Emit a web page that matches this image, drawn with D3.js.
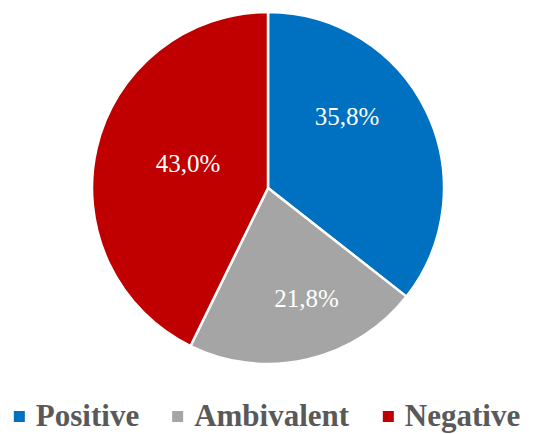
<!DOCTYPE html>
<html><head><meta charset="utf-8">
<script src="https://cdn.jsdelivr.net/npm/d3@7"></script>
<style>html,body{margin:0;padding:0;background:#fff;}</style>
</head><body>
<svg id="chart" width="537" height="434"></svg>
<script>
const categories = ["Positive", "Ambivalent", "Negative"];
const values = [35.8, 21.8, 43.0];
const colors = ["#0070C0", "#A5A5A5", "#C00000"];
const labelOffsets = [[-16, -25], [15, 8], [23, -1]];

const svg = d3.select("#chart");
const cx = 268, cy = 188, R = 176;
const pie = d3.pie().sort(null).value(d => d.v);
const data = categories.map((c, i) => ({c, v: values[i], col: colors[i], off: labelOffsets[i]}));
const arcs = pie(data);
const arc = d3.arc().innerRadius(0).outerRadius(R);
const labelArc = d3.arc().innerRadius(R * 0.6).outerRadius(R * 0.6);

const g = svg.append("g").attr("transform", `translate(${cx},${cy})`);
g.selectAll("path").data(arcs).join("path")
  .attr("d", arc).attr("fill", d => d.data.col)
  .attr("stroke", "#fff").attr("stroke-width", 2.5).attr("stroke-linejoin", "round");

const fmt = v => v.toFixed(1).replace(".", ",") + "%";
g.selectAll("text.lbl").data(arcs).join("text")
  .attr("class", "lbl")
  .attr("x", d => labelArc.centroid(d)[0] + d.data.off[0])
  .attr("y", d => labelArc.centroid(d)[1] + d.data.off[1])
  .attr("text-anchor", "middle").attr("dominant-baseline", "central")
  .attr("font-family", "Liberation Serif, serif")
  .attr("font-size", 25).attr("fill", "#fff")
  .text(d => fmt(d.data.v));

// legend
const lg = svg.append("g");
const items = lg.selectAll("g").data(data).join("g");
items.append("rect").attr("width", 11).attr("height", 11).attr("y", 411).attr("fill", d => d.col);
items.append("text").attr("x", 22).attr("y", 426)
  .attr("font-family", "Liberation Serif, serif")
  .attr("font-weight", "bold").attr("font-size", 31).attr("fill", "#595959")
  .text(d => d.c);
let x = 0; const gap = 33;
items.each(function() {
  const w = this.getBBox().width;
  d3.select(this).attr("transform", `translate(${x},0)`);
  x += w + gap;
});
const total = x - gap;
lg.attr("transform", `translate(${cx - total / 2 - 1},0)`);
</script>
</body></html>
